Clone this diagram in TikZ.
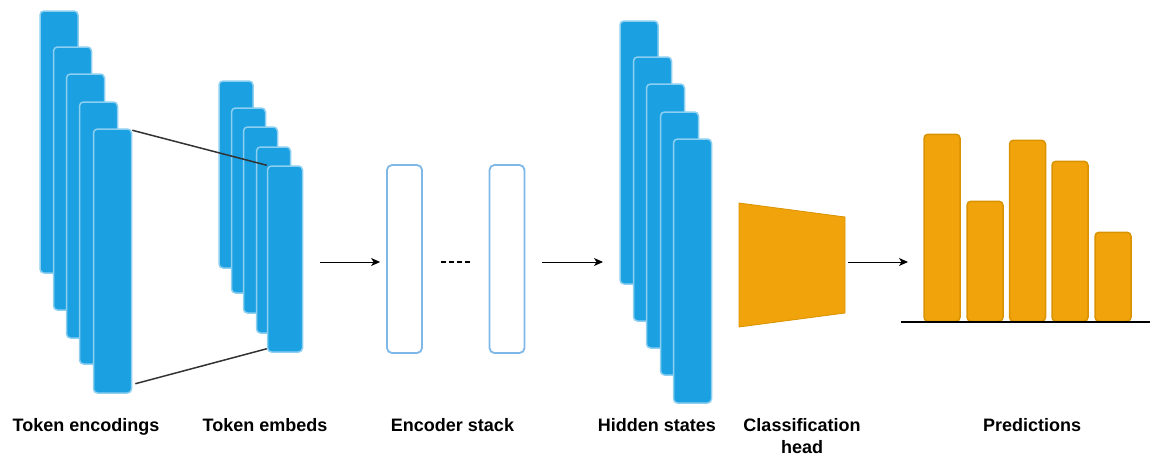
\documentclass[tikz,border=0pt]{standalone}
\usepackage{fontspec}
\setmainfont{Liberation Sans}
\usetikzlibrary{arrows.meta,calc}
\definecolor{bfill}{HTML}{1BA1E2}
\definecolor{bline}{HTML}{8CCFF0}
\definecolor{eline}{HTML}{7DB8E8}
\definecolor{ofill}{HTML}{F0A30A}
\definecolor{oline}{HTML}{D99200}
\definecolor{conn}{HTML}{333333}
\tikzset{
  bluebar/.style={draw=bline, fill=bfill, line width=1.5pt, rounded corners=4pt, inner sep=0pt, minimum width=38pt},
  encbox/.style={draw=eline, fill=white, line width=1.8pt, rounded corners=5pt, inner sep=0pt, minimum width=35pt, minimum height=188pt},
  obar/.style={draw=oline, fill=ofill, line width=1.5pt, rounded corners=4pt, inner sep=0pt, minimum width=36pt, anchor=south},
  lbl/.style={font=\fontsize{18}{22}\selectfont\bfseries, align=center, anchor=north, inner sep=0pt},
  arr/.style={draw=black, line width=1pt, -{Stealth[length=9pt,width=8pt,inset=2.5pt]}},
  fan/.style={draw=conn, line width=1.5pt}
}
\begin{document}
\begin{tikzpicture}[x=1pt,y=-1pt]
\useasboundingbox (0,0) rectangle (1150,455);
% Token encodings
\node[bluebar, minimum height=262pt] (e1) at (59,142) {};
\node[bluebar, minimum height=263pt] (e2) at (72.5,178.5) {};
\node[bluebar, minimum height=264pt] (e3) at (85.5,206) {};
\node[bluebar, minimum height=262pt] (e4) at (98.5,233) {};
\node[bluebar, minimum height=264pt] (e5) at (112.5,261) {};
% Token embeds
\node[bluebar, minimum width=34pt, minimum height=187pt] (m1) at (236,174.5) {};
\node[bluebar, minimum width=34pt, minimum height=185pt] (m2) at (248.5,200.5) {};
\node[bluebar, minimum width=34pt, minimum height=186pt] (m3) at (260.5,220) {};
\node[bluebar, minimum width=34pt, minimum height=186pt] (m4) at (273.5,240) {};
\node[bluebar, minimum width=35pt, minimum height=186pt] (m5) at (285,259) {};
% fan lines
\draw[fan] ([yshift=-2pt]e5.north east) -- (m5.north west);
\draw[fan] ([yshift=10pt,xshift=3pt]e5.south east) -- ([yshift=4pt]m5.south west);
% Encoder stack
\node[encbox] (enc1) at (404.5,259) {};
\node[encbox] (enc2) at (507,259) {};
\draw[arr, shorten <=17pt, shorten >=6pt] ([yshift=-3pt]m5.east) -- ([yshift=-3pt]enc1.west);
\draw[black, line width=1.2pt, dash pattern=on 5pt off 3pt, shorten <=18pt, shorten >=18pt] ([yshift=-3pt]enc1.east) -- ([yshift=-3pt]enc2.west);
% Hidden states
\node[bluebar, minimum height=263pt] (h1) at (639,152.5) {};
\node[bluebar, minimum height=264pt] (h2) at (652.5,189) {};
\node[bluebar, minimum height=264pt] (h3) at (665.5,216) {};
\node[bluebar, minimum height=263pt] (h4) at (679.5,243.5) {};
\node[bluebar, minimum height=264pt] (h5) at (692.5,271) {};
\coordinate (hin) at (620,262);
\draw[arr, shorten <=17pt, shorten >=17pt] ([yshift=-3pt]enc2.east) -- (hin);
% Classification head
\coordinate (c1) at (739,203);
\coordinate (c2) at (845,217);
\coordinate (c3) at (845,313);
\coordinate (c4) at (739,327);
\draw[draw=oline, fill=ofill, line width=0.8pt] (c1) -- (c2) -- (c3) -- (c4) -- cycle;
\coordinate (cout) at (845,262);
% Predictions
\node[obar, minimum height=187pt] (p1) at (942,322) {};
\node[obar, minimum height=120pt] (p2) at (985,322) {};
\node[obar, minimum height=181pt] (p3) at (1027.5,322) {};
\node[obar, minimum height=160pt] (p4) at (1070,322) {};
\node[obar, minimum height=89pt] (p5) at (1113,322) {};
\coordinate (b1) at (901,322);
\coordinate (b2) at (1150,322);
\draw[black, line width=2.5pt] (b1) -- (b2);
\coordinate (pin) at (924,262);
\draw[arr, shorten <=3pt, shorten >=16pt] (cout) -- (pin);
% Labels
\node[lbl] (l1) at (86,418) {Token encodings};
\node[lbl] (l2) at (265,418) {Token embeds};
\node[lbl] (l3) at (452.5,418) {Encoder stack};
\node[lbl] (l4) at (657,418) {Hidden states};
\node[lbl] (l5) at (802,418) {Classification\\head};
\node[lbl] (l6) at (1032,418) {Predictions};
\end{tikzpicture}
\end{document}
